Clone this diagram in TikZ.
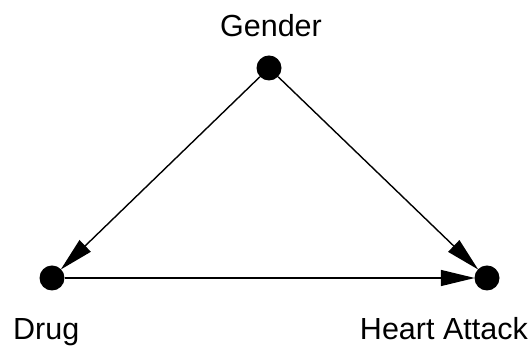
\documentclass[tikz,border=0pt]{standalone}
\usepackage{fontspec}
\setmainfont{Liberation Sans}
\usetikzlibrary{arrows.meta,positioning}

\tikzset{
  dot/.style={circle,fill=black,inner sep=0pt,minimum size=25pt},
  lab/.style={font=\fontsize{30.5}{33}\selectfont,inner sep=0pt},
  edge/.style={-{Stealth[length=34pt,width=16pt,inset=0pt]},line width=1.4pt,shorten >=-0.5pt}
}

\begin{document}
\begin{tikzpicture}[x=1pt,y=1pt]
      \useasboundingbox (0,0) rectangle (531,347);
      \node[dot] (gender) at (269,279) {};
      \node[dot] (drug) at (52,69) {};
      \node[dot] (heart) at (487,69) {};
      \node[lab,anchor=base] (genderlab) at (271,310) {Gender};
      \node[lab,anchor=base west] (druglab) at (13,7) {Drug};
      \node[lab,anchor=base east] (heartlab) at (528,7) {Heart Attack};
      \draw[edge] (gender) -- (drug);
      \draw[edge] (gender) -- (heart);
      \draw[edge] (drug) -- (heart);
    \end{tikzpicture}
\end{document}
